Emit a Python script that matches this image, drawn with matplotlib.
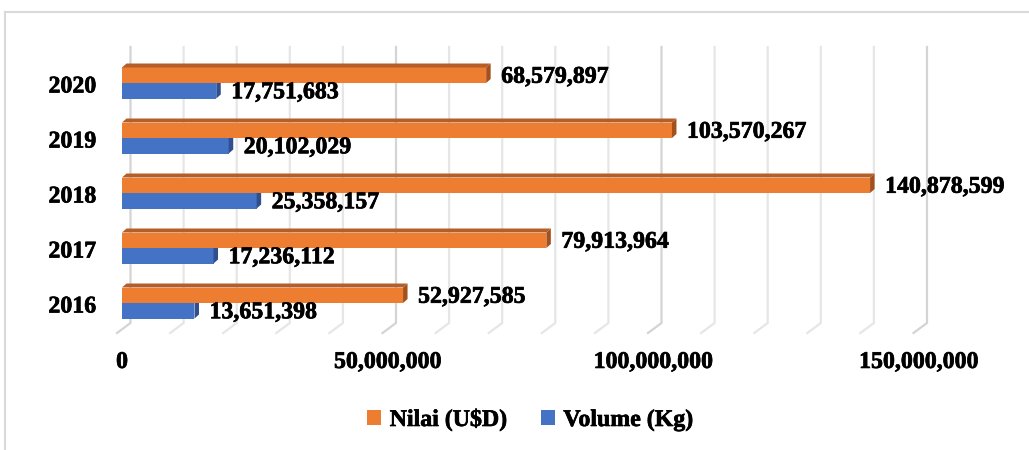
import matplotlib.pyplot as plt
import matplotlib.patheffects as pe
from matplotlib.patches import Polygon, Patch
from matplotlib.lines import Line2D
from matplotlib.ticker import FuncFormatter

years = ['2016', '2017', '2018', '2019', '2020']
nilai = [52927585, 79913964, 140878599, 103570267, 68579897]
volume = [13651398, 17236112, 25358157, 20102029, 17751683]
grid_vals = list(range(0, 160000000, 10000000))
tick_vals = [0, 50000000, 100000000, 150000000]

ORANGE = '#ED7D31'
ORANGE_TOP = '#B55E27'
ORANGE_SIDE = '#A4501C'
BLUE = '#4472C4'
BLUE_TOP = '#3A62AA'
BLUE_SIDE = '#2F4F8F'

plt.rcParams['font.family'] = ['Liberation Serif', 'DejaVu Serif']
plt.rcParams['font.weight'] = 'bold'
FS = 17.2
bold = [pe.withStroke(linewidth=0.5, foreground='black')]

W, H = 1029, 450
PPM = 5.31  # pixels per million
fig = plt.figure(figsize=(W / 100, H / 100), dpi=100)

x0_px, y_ref, step = 122, 303, 55
ybot = (y_ref - 345) / step
ytop = 5.0
ax = fig.add_axes([x0_px / W, (H - (y_ref - ybot * step)) / H,
                   170 * PPM / W, (ytop - ybot) * step / H])
ax.set_xlim(0, 170e6)
ax.set_ylim(ybot, ytop)


def px_x(p):
    return p / PPM * 1e6


def px_y(p):
    return p / step


# back wall + floor gridlines
back_dx, front_dx = px_x(8.5), px_x(-5)
g_top, g_bot, g_front = (y_ref - 47) / step, (y_ref - 323) / step, (y_ref - 333) / step
for v in grid_vals:
    col = '#D4D4D4' if v % 50000000 == 0 else '#E6E6E6'
    ax.plot([v + back_dx, v + back_dx, v + front_dx], [g_top, g_bot, g_front],
            color=col, lw=1.6, clip_on=False, zorder=1, solid_joinstyle='miter')

bh = 15.5 / step
ddx, ddy = px_x(4.5), px_y(4)


def bar3d(y_bottom, v, face, top, side):
    yb, yt = y_bottom, y_bottom + bh
    ax.add_patch(Polygon([(0, yb), (v, yb), (v, yt), (0, yt)], closed=True,
                         facecolor=face, edgecolor='none', zorder=3))
    ax.add_patch(Polygon([(0, yt), (v, yt), (v + ddx, yt + ddy), (ddx, yt + ddy)],
                         closed=True, facecolor=top, edgecolor='none', zorder=3))
    ax.add_patch(Polygon([(v, yb), (v + ddx, yb + ddy), (v + ddx, yt + ddy), (v, yt)],
                         closed=True, facecolor=side, edgecolor='none', zorder=3))


for i in range(len(years)):
    bar3d(i - bh, volume[i], BLUE, BLUE_TOP, BLUE_SIDE)
    bar3d(i, nilai[i], ORANGE, ORANGE_TOP, ORANGE_SIDE)
    ax.text(nilai[i] + px_x(15), i + bh / 2 - px_y(2), f'{nilai[i]:,}',
            fontsize=FS, fontweight='bold', va='center', ha='left', zorder=5,
            path_effects=bold)
    ax.text(volume[i] + px_x(15), i - bh / 2 - px_y(2), f'{volume[i]:,}',
            fontsize=FS, fontweight='bold', va='center', ha='left', zorder=5,
            path_effects=bold)
    ax.text(px_x(-26), i - px_y(4), years[i], fontsize=FS, fontweight='bold',
            va='center', ha='right', path_effects=bold)

ax.set_yticks([])
ax.set_xticks(tick_vals)
ax.xaxis.set_major_formatter(FuncFormatter(lambda v, p: f'{int(v):,}'))
ax.tick_params(axis='x', length=0, pad=5, labelsize=FS)
for lab in ax.get_xticklabels():
    lab.set_fontweight('bold')
    lab.set_path_effects(bold)
for s in ax.spines.values():
    s.set_visible(False)
ax.patch.set_visible(False)

handles = [Patch(facecolor=ORANGE, label='Nilai (U$D)'),
           Patch(facecolor=BLUE, label='Volume (Kg)')]
leg = fig.legend(handles=handles, loc='center', bbox_to_anchor=(530 / W, 1 - 420 / H),
                 ncol=2, frameon=False, prop={'size': FS, 'weight': 'bold'},
                 handlelength=0.6, handleheight=0.6, handletextpad=0.35,
                 columnspacing=1.4)
for t in leg.get_texts():
    t.set_path_effects(bold)

# chart frame
fig.add_artist(Line2D([5 / W, 5 / W], [0, 1 - 12 / H], color='#D9D9D9', lw=1.5))
fig.add_artist(Line2D([5 / W, 1], [1 - 12 / H, 1 - 12 / H], color='#D9D9D9', lw=1.5))

fig.savefig('out.png', dpi=100)
